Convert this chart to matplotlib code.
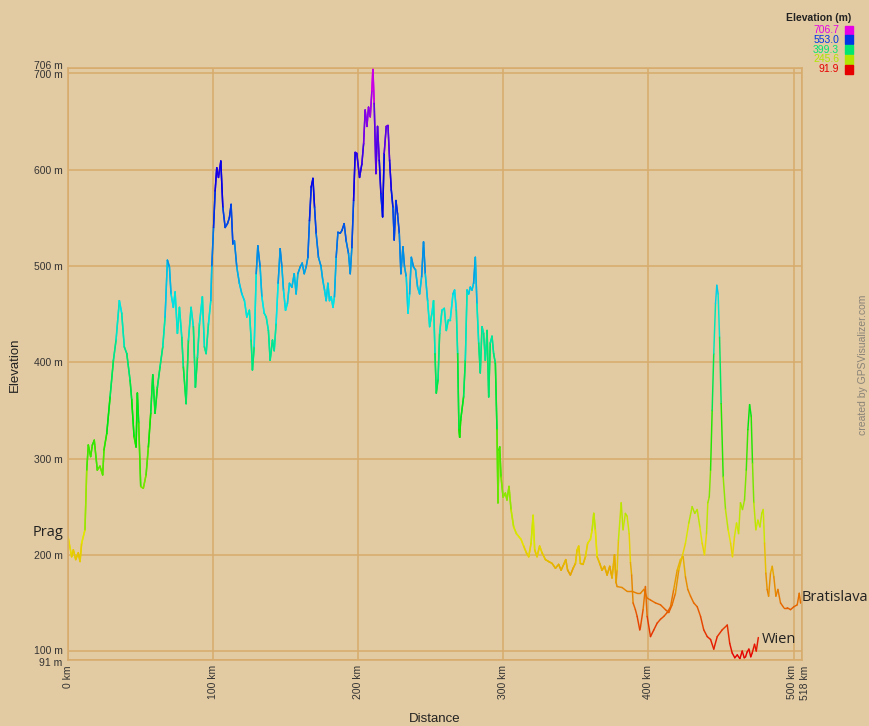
import numpy as np
import matplotlib
matplotlib.use('Agg')
import matplotlib.pyplot as plt
from matplotlib.collections import LineCollection
from matplotlib.colors import LinearSegmentedColormap, Normalize, hsv_to_rgb
from matplotlib.patches import Rectangle
from matplotlib.transforms import ScaledTranslation

# --- data (km, m) ---
# shared part Prag -> ~378 km
common_km = [0, 2.5, 3.7, 5.3, 7.1, 8.3, 9.4, 11.7, 12.9, 14,
             15.6, 16.8, 18.1, 20.2, 22, 23.9, 24.8, 26.7, 29, 31.3,
             33.1, 35.4, 37, 38.8, 40.5, 42.8, 43.9, 45.5, 46.9, 47.8,
             48.7, 50.1, 51.9, 53.8, 55.4, 57, 58.4, 60, 61.6, 63.4,
             65.3, 66.9, 68.5, 69.9, 71, 72.6, 73.8, 75.4, 76.8, 78.4,
             79.5, 81.4, 83, 84.8, 86.4, 87.8, 89.2, 90.6, 92.6, 94,
             95.2, 96.8, 98.4, 99.1, 100.3, 101.4, 102.5, 103.7, 105.3, 106.7,
             108.3, 109.9, 111.2, 112.4, 113.6, 114.7, 116.3, 118.1, 119.8, 121.6,
             123.2, 125, 126.2, 127.1, 128.3, 129.7, 130.8, 132.4, 133.6, 135.2,
             136.6, 138.1, 139.3, 140.9, 142.1, 143.4, 144.8, 146.2, 147.4, 148.5,
             149.9, 151.2, 152.6, 154.3, 155.9, 157.2, 158.4, 160, 161.4, 162.8,
             164.1, 165.3, 166.4, 167.6, 168.8, 169.9, 171, 172.6, 174.3, 175.6,
             176.8, 177.9, 179.1, 180.2, 181.4, 182.6, 183.6, 184.8, 186, 187.6,
             188.8, 190.3, 191.7, 193.3, 194.5, 195.6, 196.8, 197.9, 199, 200.9,
             202.5, 203.7, 204.8, 206, 207.1, 208.3, 209.4, 210.1, 211, 212.2,
             213.3, 214.5, 215.6, 216.8, 217.9, 219.3, 220.5, 221.6, 222.8, 223.9,
             224.8, 226, 227.1, 228.3, 229.4, 230.8, 231.9, 233.1, 234.3, 235.4,
             236.6, 238.1, 239.5, 240.9, 242.3, 243.7, 245, 246.2, 247.8, 249.2,
             250.8, 251.9, 252.9, 253.8, 255, 256.1, 257.7, 259.3, 260.7, 262.1,
             263.4, 265.3, 266.4, 267.6, 268.5, 269.4, 269.9, 270.6, 272.6, 273.8,
             275, 276.1, 277.2, 278.4, 279.5, 280.7, 281.8, 283, 284.1, 285.3,
             286.4, 287.6, 288.8, 289.9, 291, 292.2, 293.3, 294.5, 295.6, 296.3,
             297, 297.5, 298.4, 299.8, 301.4, 302.5, 303.9, 305.3, 307.1, 309,
             310.6, 312.2, 314, 315.9, 317.5, 319.1, 320.5, 321.6, 323.2, 325,
             326.7, 329, 331.2, 333.6, 335.9, 338.1, 339.8, 341.6, 343, 344.3,
             346.2, 348.1, 349.7, 350.8, 351.9, 353.1, 354.9, 356.6, 358.1, 360,
             361.2, 362.3, 363.4, 364.6, 366.4, 368, 369.7, 371.5, 373.3, 374.9,
             376.6, 377.7]
common_elev = [219, 198, 205, 195, 202, 193, 212, 226, 288, 314,
               302, 314, 319, 288, 292, 283, 309, 326, 364, 402,
               423, 464, 451, 416, 409, 381, 361, 323, 312, 368,
               337, 271, 269, 283, 312, 347, 387, 347, 374, 395,
               416, 447, 506, 499, 471, 457, 473, 430, 457, 426,
               395, 357, 423, 457, 437, 374, 405, 440, 468, 416,
               409, 440, 464, 500, 540, 578, 602, 592, 609, 561,
               540, 544, 550, 564, 523, 526, 499, 482, 471, 464,
               447, 454, 423, 392, 416, 492, 521, 499, 468, 451,
               447, 433, 402, 423, 412, 440, 482, 518, 499, 475,
               454, 461, 482, 478, 492, 471, 492, 499, 503, 492,
               499, 509, 547, 582, 591, 561, 534, 509, 500, 485,
               475, 464, 482, 464, 468, 457, 468, 509, 535, 534,
               537, 544, 526, 513, 492, 519, 568, 618, 617, 592,
               606, 627, 662, 645, 665, 655, 682, 706, 669, 596,
               645, 610, 575, 551, 617, 645, 646, 610, 579, 561,
               527, 568, 554, 534, 492, 520, 499, 489, 451, 471,
               509, 499, 496, 478, 471, 489, 525, 492, 464, 437,
               451, 464, 409, 368, 382, 430, 454, 456, 433, 444,
               444, 471, 475, 454, 409, 330, 322, 340, 364, 402,
               475, 471, 478, 475, 482, 509, 461, 420, 389, 437,
               430, 402, 433, 364, 420, 427, 409, 399, 330, 254,
               309, 312, 281, 260, 264, 257, 271, 247, 229, 222,
               219, 216, 209, 202, 198, 212, 241, 205, 198, 209,
               202, 195, 193, 191, 186, 190, 184, 190, 195, 184,
               179, 186, 191, 205, 209, 191, 190, 198, 212, 216,
               226, 243, 226, 198, 191, 184, 188, 179, 188, 176,
               200, 171]

# branch to Wien
wien_km = [378.4, 379.3, 381.2, 382.5, 384.1, 385.3, 386.7, 387.6, 388.4, 389.4,
           391, 392.2, 394, 394.5, 396.3, 397.9, 399.1, 401.4, 403.7, 406,
           408.3, 410.6, 412.9, 415.2, 417.4, 419.8, 422, 423.9, 425.5, 427.1,
           429, 431.2, 433.6, 435.9, 438.1, 440.5, 442.8, 445, 447.4, 450.8,
           454.3, 456, 457.7, 459.5, 461.2, 463, 464.6, 466, 466.9, 468,
           469.2, 470.5, 471.5, 473.1, 474.3, 475.7]
wien_elev = [184, 215, 254, 226, 243, 240, 222, 192, 179, 150,
             143, 136, 122, 125, 143, 167, 136, 115, 122, 129,
             133, 136, 140, 146, 164, 184, 195, 198, 177, 164,
             157, 150, 146, 136, 122, 115, 112, 102, 115, 122,
             127, 108, 98, 93, 96, 92, 100, 93, 94, 99,
             102, 94, 98, 107, 100, 114]

# branch to Bratislava
brat_km = [378.4, 381.8, 385.3, 388.7, 392.2, 394.5, 396.8, 399.1, 401.4, 404.8,
           408.3, 411.7, 414, 416.3, 418.6, 420.9, 423.2, 425.5, 427.8, 430.1,
           431.9, 433.6, 435.4, 437, 438.6, 440, 440.9, 441.9, 442.8, 443.9,
           445, 446.2, 447.1, 448, 449, 450.1, 451.5, 453.1, 454.9, 456.6,
           457.9, 459.3, 460.7, 462.1, 463.4, 464.8, 466.2, 467.4, 468.5, 469.7,
           470.8, 471.7, 472.6, 474, 475.4, 476.8, 478.1, 479.1, 480, 480.9,
           481.8, 482.8, 484.1, 485.3, 486.4, 487.8, 489.2, 491, 493.3, 495.6,
           497.9, 500.2, 502.5, 503.9, 504.8, 505.5]
brat_elev = [167, 166, 162, 162, 160, 160, 164, 155, 153, 150,
             148, 143, 140, 148, 160, 184, 198, 212, 233, 250,
             243, 247, 229, 212, 200, 222, 254, 260, 288, 350,
             409, 461, 480, 471, 426, 357, 281, 247, 226, 212,
             198, 219, 233, 222, 254, 247, 257, 288, 330, 356,
             344, 295, 254, 226, 236, 229, 243, 247, 212, 181,
             164, 157, 181, 188, 177, 157, 164, 150, 145, 145,
             143, 146, 148, 160, 150, 151]

y_ticks = [91, 100, 200, 300, 400, 500, 600, 700, 706]
x_ticks = [0, 100, 200, 300, 400, 500, 505.6]
x_tick_labels = ["0 km", "100 km", "200 km", "300 km", "400 km", "500 km", "518 km"]
legend_vals = [706.7, 553.0, 399.3, 245.6, 91.9]

BG = '#e2caa2'
GRID = '#d7ab6c'
W, H = 869, 726
plt.rcParams['font.family'] = ['Liberation Sans', 'DejaVu Sans']

# elevation colour scale: red (low) -> magenta (high), hue ramp like the original
hues = np.linspace(0, 300 / 360, 61)
cmap = LinearSegmentedColormap.from_list('elev', [hsv_to_rgb((h, 1.0, 0.9)) for h in hues])
norm = Normalize(91.9, 706.7)

fig = plt.figure(figsize=(W / 100, H / 100), dpi=100, facecolor=BG)
ax = fig.add_axes([68 / W, 1 - 659.7 / H, (801.7 - 68) / W, (659.7 - 67.7) / H])
ax.set_facecolor(BG)
ax.set_xlim(0, 505.6)
ax.set_ylim(91, 706)

ax.set_xticks(x_ticks)
ax.set_xticklabels(x_tick_labels, rotation=90, fontsize=7.5, color='#333333')
ax.set_yticks(y_ticks)
ax.set_yticklabels([f"{v} m" for v in y_ticks], fontsize=7.5, color='#333333')
ax.tick_params(length=0, pad=4)
for lbl in ax.get_xticklabels():
    lbl.set_va('top')

# nudge the crowded end labels apart (pixels -> inches at dpi 100)
def nudge(lbl, dx, dy):
    lbl.set_transform(lbl.get_transform() + ScaledTranslation(dx / 100, dy / 100, fig.dpi_scale_trans))

ylbls = ax.get_yticklabels()
nudge(ylbls[0], 0, -2)
nudge(ylbls[1], 0, 1)
nudge(ylbls[-1], 0, 3)
nudge(ylbls[-2], 0, -1)
xlbls = ax.get_xticklabels()
nudge(xlbls[-1], 3, 0)
nudge(xlbls[-2], -2, 0)

ax.grid(True, color=GRID, lw=1.1)
ax.set_axisbelow(True)
for sp in ax.spines.values():
    sp.set_color(GRID)
    sp.set_linewidth(1.1)


def segments(km, elev):
    pts = np.column_stack([km, elev]).reshape(-1, 1, 2)
    segs = np.concatenate([pts[:-1], pts[1:]], axis=1)
    return segs, (np.asarray(elev[:-1]) + np.asarray(elev[1:])) / 2.0


for branch_km, branch_elev in [(brat_km, brat_elev), (wien_km, wien_elev)]:
    km = np.array(common_km + branch_km, dtype=float)
    elev = np.array(common_elev + branch_elev, dtype=float)
    segs, mids = segments(km, elev)
    lc = LineCollection(segs, cmap=cmap, norm=norm, linewidths=1.05, capstyle='round')
    lc.set_array(mids)
    ax.add_collection(lc)

# place names
place_font = ['Open Sans', 'DejaVu Sans']
ax.text(-3.4, 223, "Prag", ha='right', va='center', fontsize=10.5, color='#222222',
        family=place_font, clip_on=False)
ax.text(505.8, 156, "Bratislava", ha='left', va='center', fontsize=10.5, color='#222222',
        family=place_font, clip_on=False)
ax.text(478, 112, "Wien", ha='left', va='center', fontsize=10.5, color='#222222',
        family=place_font, clip_on=False)

# axis titles
fig.text(15 / W, 1 - 365 / H, "Elevation", rotation=90, ha='center', va='center',
         fontsize=9.5, color='#222222')
fig.text(435 / W, 1 - 719 / H, "Distance", ha='center', va='center',
         fontsize=9.5, color='#222222')
fig.text(863 / W, 1 - 365 / H, "created by GPSVisualizer.com", rotation=90,
         ha='center', va='center', fontsize=7.5, color='#8a8478')

# legend top right
fig.text(851 / W, 1 - 18 / H, "Elevation (m)", ha='right', va='center',
         fontsize=7.5, fontweight='bold', color='#222222')
for i, val in enumerate(legend_vals):
    yy = 30 + i * 9.8
    col = cmap(norm(val))
    fig.text(839 / W, 1 - yy / H, f"{val:.1f}", ha='right', va='center',
             fontsize=7.5, color=col)
    fig.patches.append(Rectangle((845 / W, 1 - (yy + 4.5) / H), 8 / W, 9 / H,
                                 transform=fig.transFigure, color=col))

fig.savefig('out.png', dpi=100, facecolor=BG)
